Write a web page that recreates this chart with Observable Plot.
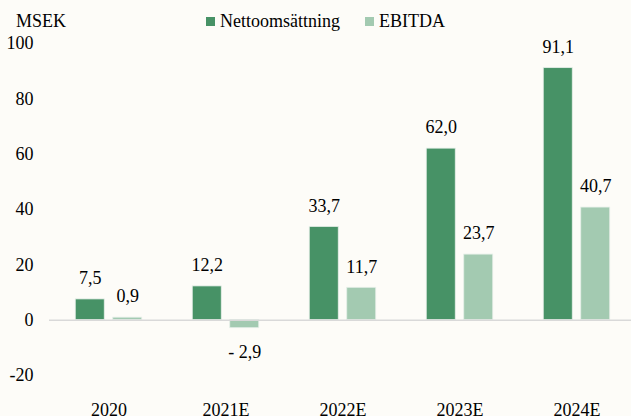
<!DOCTYPE html>
<html>
<head>
<meta charset="utf-8">
<script src="https://cdn.jsdelivr.net/npm/d3@7"></script>
<script src="https://cdn.jsdelivr.net/npm/@observablehq/plot@0.6"></script>
<style>
  html, body { margin: 0; padding: 0; background: #FDFCF8; }
  #wrap { width: 631px; height: 416px; position: relative; overflow: hidden; font-family: "Liberation Serif", Tinos, "Times New Roman", Times, "DejaVu Serif", serif; color: #000; }
  #head { position: relative; height: 30px; font-size: 18px; }
  #unit { position: absolute; left: 16px; top: 11px; line-height: 20px; }
  .leg { position: absolute; top: 11px; line-height: 20px; white-space: nowrap; }
  .sw { display: inline-block; width: 9px; height: 9px; margin-right: 5px; vertical-align: 1px; }
</style>
</head>
<body>
<div id="wrap">
  <div id="head">
    <div id="unit">MSEK</div>
    <div class="leg" style="left:206px"><span class="sw" style="background:#479266"></span>Nettoomsättning</div>
    <div class="leg" style="left:365px"><span class="sw" style="background:#A3CAB1"></span>EBITDA</div>
  </div>
  <div id="chart"></div>
</div>
<script>
const years = ["2020", "2021E", "2022E", "2023E", "2024E"];
const netSales = [7.5, 12.2, 33.7, 62.0, 91.1];
const ebitda = [0.9, -2.9, 11.7, 23.7, 40.7];
const yTicks = [-20, 0, 20, 40, 60, 80, 100];

const darkColor = "#479266";
const lightColor = "#A3CAB1";

const netRows = years.map((y, i) => ({year: y, value: netSales[i]}));
const ebitdaRows = years.map((y, i) => ({year: y, value: ebitda[i]}));

const fmt = v => (v < 0 ? "- " : "") + Math.abs(v).toFixed(1).replace(".", ",");

const chart = Plot.plot({
  width: 631,
  height: 386,
  marginTop: 13,
  marginBottom: 41,
  marginLeft: 49,
  marginRight: -5,
  style: {background: "#FDFCF8", fontFamily: "\"Liberation Serif\", Tinos, \"Times New Roman\", Times, \"DejaVu Serif\", serif", fontSize: "18px", color: "#000"},
  x: {domain: years, padding: 0, tickSize: 0, tickPadding: 28, label: null},
  y: {domain: [-20, 100], ticks: yTicks, tickSize: 0, tickPadding: 16, label: null, tickFormat: d => String(d)},
  marks: [
    Plot.barY(netRows, {x: "year", y: "value", fill: darkColor, stroke: "#E6EFE9", strokeWidth: 0.8, insetLeft: 25.25, insetRight: 62.75}),
    Plot.barY(ebitdaRows, {x: "year", y: "value", fill: lightColor, stroke: "#E6EFE9", strokeWidth: 0.8, insetLeft: 62.75, insetRight: 25.25}),
    Plot.ruleY([0], {stroke: "#D9D9D9", strokeWidth: 1.5}),
    Plot.text(netRows.filter(d => d.value >= 0), {x: "year", y: "value", text: d => fmt(d.value), dx: -18.75, dy: -21, fill: "#000"}),
    Plot.text(ebitdaRows.filter(d => d.value >= 0), {x: "year", y: "value", text: d => fmt(d.value), dx: 18.75, dy: -21, fill: "#000"}),
    Plot.text(ebitdaRows.filter(d => d.value < 0), {x: "year", y: "value", text: d => fmt(d.value), dx: 18.75, dy: 24, fill: "#000"})
  ]
});
document.getElementById("chart").appendChild(chart);
</script>
</body>
</html>
